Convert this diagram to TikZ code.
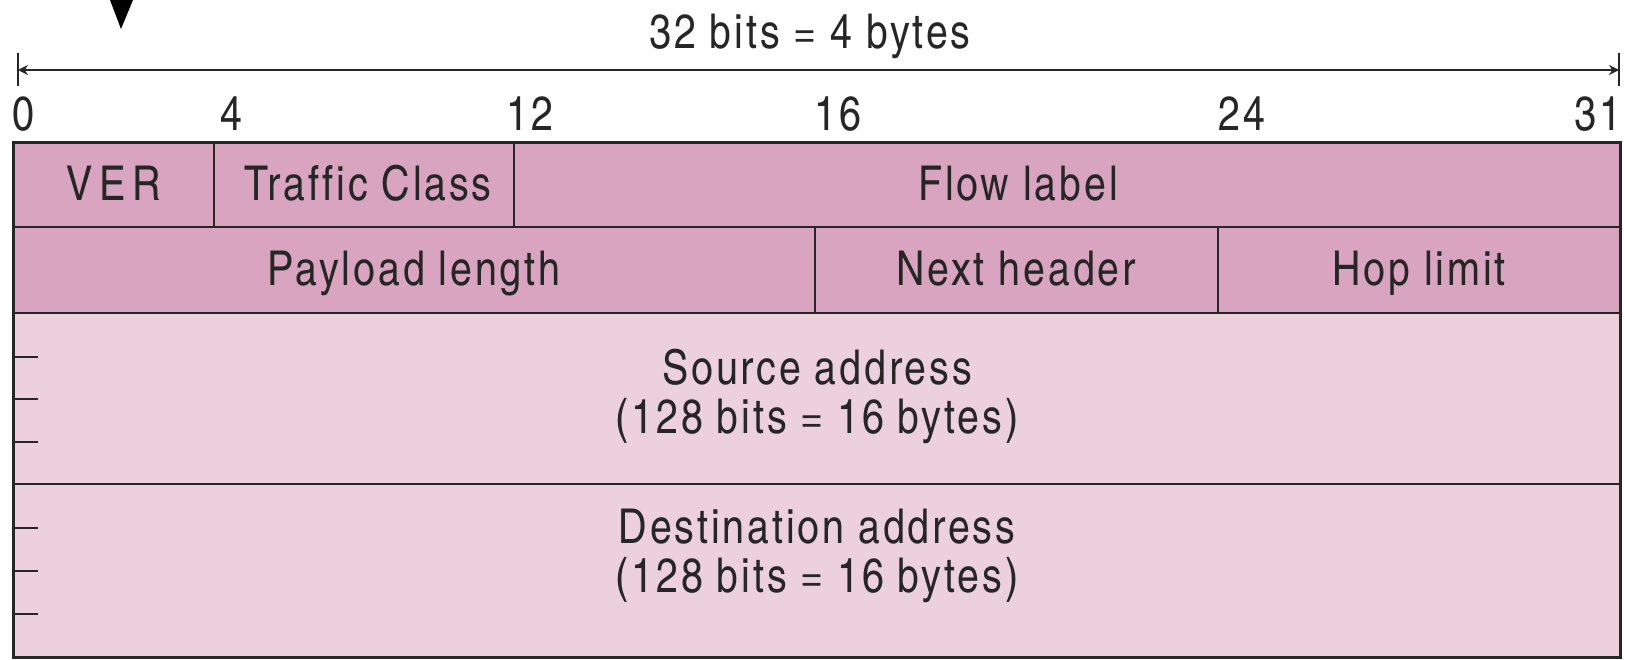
\documentclass[tikz,border=0pt]{standalone}
\usepackage{fontspec}
\setmainfont[LetterSpace=6, Ligatures=NoCommon]{texgyreheroscn-regular.otf}
\usepackage{xcolor}
\usetikzlibrary{arrows.meta}
\definecolor{hdrdark}{RGB}{217,164,191}
\definecolor{hdrlight}{RGB}{236,208,219}

\begin{document}
\begin{tikzpicture}[x=0.5pt,y=-0.5pt,
    cell/.style={draw=black!85, line width=1.2pt},
    tick/.style={draw=black!85, line width=1pt},
    field/.style={font=\fontsize{24}{24.5}\selectfont, align=center, inner sep=0pt, text=black!85},
    bitnum/.style={font=\fontsize{24}{24}\selectfont, inner sep=0pt, text=black!85},
    span/.style={draw=black!85, line width=1pt, {Stealth[length=5pt,width=5pt]}-{Stealth[length=5pt,width=5pt]}}]
    \useasboundingbox (0,0) rectangle (1625,659);

    % Marker oben
    \fill (110,0) -- (133,0) -- (121,29) -- cycle;

    % Breite des Headers
    \node[field, anchor=base] (width) at (810,48) {32 bits = 4 bytes};
    \coordinate (wl) at (18,70);
    \coordinate (wr) at (1619,70);
    \draw[span] (wl) -- (wr);
    \draw[tick] (18,53) -- (18,86);
    \draw[tick] (1619,53) -- (1619,86);

    % Bitnummern
    \node[bitnum, anchor=base west] (b0) at (12,130) {0};
    \node[bitnum, anchor=base west] (b4) at (220,130) {4};
    \node[bitnum, anchor=base west] (b12) at (506,130) {12};
    \node[bitnum, anchor=base west] (b16) at (814,130) {16};
    \node[bitnum, anchor=base west] (b24) at (1218,130) {24};
    \node[bitnum, anchor=base east] (b31) at (1622,130) {31};

    % Zeilen
    \filldraw[cell, fill=hdrdark] (13,142) rectangle (1620,313);
    \filldraw[cell, fill=hdrlight] (13,313) rectangle (1620,657);
    \draw[cell] (13,227) -- (1620,227);
    \draw[cell] (13,484) -- (1620,484);
    \draw[cell] (214,142) -- (214,227);
    \draw[cell] (514,142) -- (514,227);
    \draw[cell] (815,227) -- (815,313);
    \draw[cell] (1218,227) -- (1218,313);

    % Striche fuer die 32-Bit-Woerter der Adressen
    \foreach \y in {357,399,442,528,571,614}
        \draw[tick] (13,\y) -- (38,\y);

    % Felder
    \node[field, anchor=base] (ver) at (114,200) {\addfontfeature{LetterSpace=14}VER};
    \node[field, anchor=base] (tclass) at (368,200) {Traff\kern1.5pt ic Class};
    \node[field, anchor=base] (flow) at (1018,200) {Flow label};
    \node[field, anchor=base] (plen) at (414,285) {Payload length};
    \node[field, anchor=base] (nxt) at (1016,285) {Next header};
    \node[field, anchor=base] (hop) at (1419,285) {Hop limit};
    \node[field] (src) at (817,396) {Source address\\(128 bits = 16 bytes)};
    \node[field] (dst) at (817,556) {Destination address\\(128 bits = 16 bytes)};

    % Rahmen
    \draw[cell, line width=1.5pt] (13,142) rectangle (1620,657);
\end{tikzpicture}
\end{document}
